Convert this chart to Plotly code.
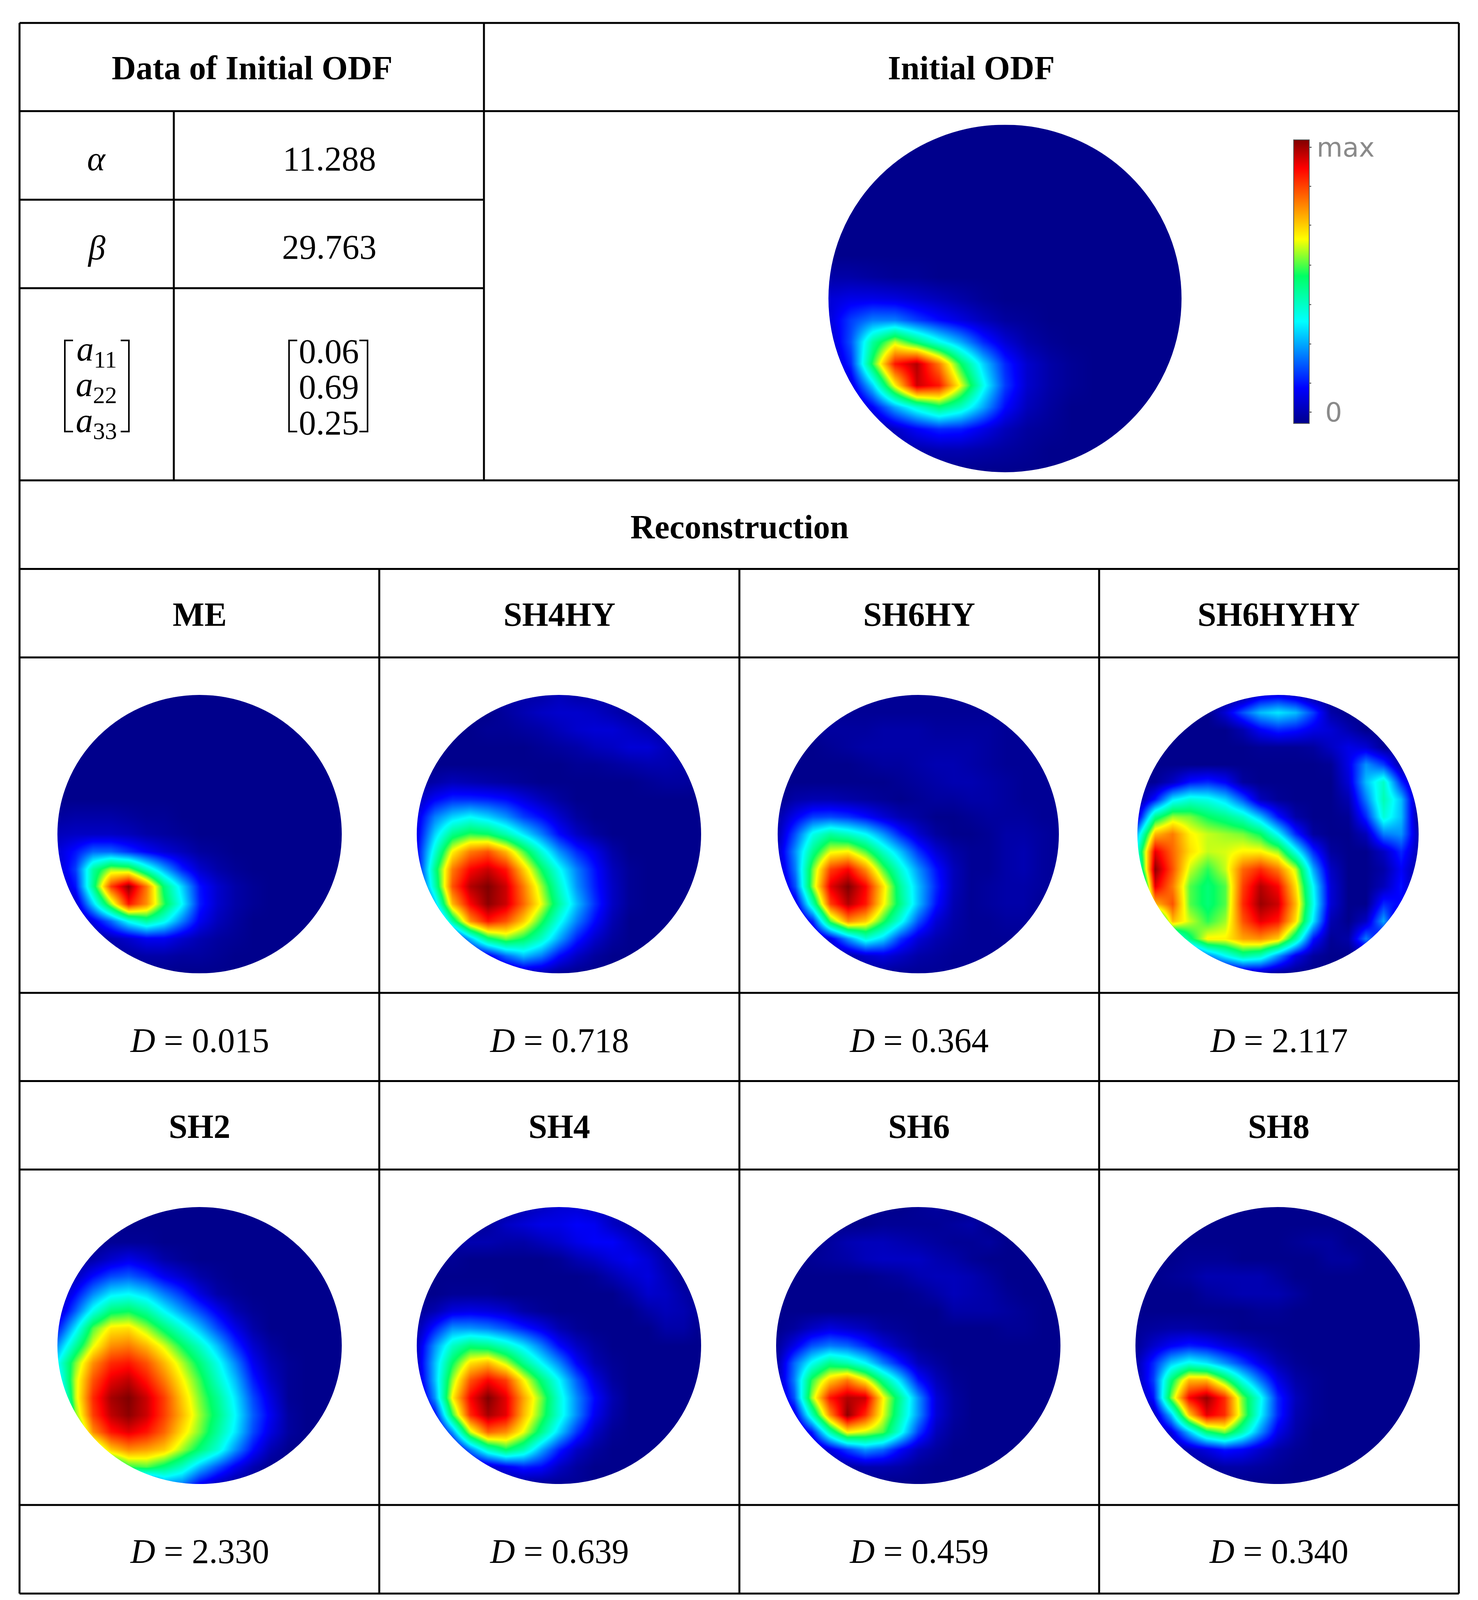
"""ODF table: initial distribution and its reconstructions, drawn as heatmaps on a table grid."""

import numpy as np
import plotly.graph_objects as go

# the page keeps an 8 px body margin; layout numbers below are in reference pixels (H tall),
# the figure itself is drawn shorter (FIG_H) so the whole table stays inside the photographed part
MARGIN = 8
W, H = 3784 - 2 * MARGIN, 4386 - 2 * MARGIN
FIG_H = 4110
SERIF = "Liberation Serif"
GRID = np.linspace(-1, 1, 17)

TOP_HEADERS = ["Data of Initial ODF", "Initial ODF"]
SECTION_TITLE = "Reconstruction"
ALPHA_VALUE = "11.288"
BETA_VALUE = "29.763"
A_LABELS = ["11", "22", "33"]
A_VALUES = ["0.06", "0.69", "0.25"]
NAMES_ROW1 = ["ME", "SH4HY", "SH6HY", "SH6HYHY"]
D_ROW1 = ["0.015", "0.718", "0.364", "2.117"]
NAMES_ROW2 = ["SH2", "SH4", "SH6", "SH8"]
D_ROW2 = ["2.330", "0.639", "0.459", "0.340"]
COLORBAR_TEXT = ["max", "\u00a00"]
COLORBAR_LABEL_AT = [97.4, 4]
COLORBAR_MARKS = [83.6, 69.9, 55.8, 41.9, 28, 14.2]

# values, 0 = navy, 100 = dark red, top row first
ODF_INITIAL = [
    [0, 0, 0, 0, 0, 0, 0, 0, 0, 0, 0, 0, 0, 0, 0, 0, 0],
    [0, 0, 0, 0, 0, 0, 0, 0, 0, 0, 0, 0, 0, 0, 0, 0, 0],
    [0, 0, 0, 0, 0, 0, 0, 0, 0, 0, 0, 0, 0, 0, 0, 0, 0],
    [0, 0, 0, 0, 0, 0, 0, 0, 0, 0, 0, 0, 0, 0, 0, 0, 0],
    [0, 0, 0, 0, 0, 0, 0, 0, 0, 0, 0, 0, 0, 0, 0, 0, 0],
    [0, 0, 0, 0, 0, 0, 0, 0, 0, 0, 0, 0, 0, 0, 0, 0, 0],
    [0, 0, 0, 0, 0, 0, 0, 0, 0, 0, 0, 0, 0, 0, 0, 0, 0],
    [3, 3, 2, 1, 1, 0, 0, 0, 0, 0, 0, 0, 0, 0, 0, 0, 0],
    [8, 10, 10, 9, 7, 5, 3, 1, 0, 0, 0, 0, 0, 0, 0, 0, 0],
    [8, 18, 24, 24, 18, 13, 9, 5, 2, 1, 0, 0, 0, 0, 0, 0, 0],
    [5, 20, 46, 62, 50, 38, 28, 16, 8, 3, 1, 0, 0, 0, 0, 0, 0],
    [2, 16, 54, 88, 96, 78, 52, 32, 16, 7, 3, 1, 0, 0, 0, 0, 0],
    [0, 8, 32, 66, 94, 88, 64, 38, 18, 7, 3, 1, 0, 0, 0, 0, 0],
    [0, 0, 12, 28, 40, 50, 42, 28, 13, 5, 2, 0, 0, 0, 0, 0, 0],
    [0, 0, 0, 6, 12, 16, 15, 10, 5, 2, 1, 0, 0, 0, 0, 0, 0],
    [0, 0, 0, 2, 3, 4, 4, 3, 2, 1, 0, 0, 0, 0, 0, 0, 0],
    [0, 0, 0, 0, 0, 0, 0, 0, 0, 0, 0, 0, 0, 0, 0, 0, 0],
]
ODF_ME = [
    [0, 0, 0, 0, 0, 0, 0, 0, 0, 0, 0, 0, 0, 0, 0, 0, 0],
    [0, 0, 0, 0, 0, 0, 0, 0, 0, 0, 0, 0, 0, 0, 0, 0, 0],
    [0, 0, 0, 0, 0, 0, 0, 0, 0, 0, 0, 0, 0, 0, 0, 0, 0],
    [0, 0, 0, 0, 0, 0, 0, 0, 0, 0, 0, 0, 0, 0, 0, 0, 0],
    [0, 0, 0, 0, 0, 0, 0, 0, 0, 0, 0, 0, 0, 0, 0, 0, 0],
    [0, 0, 0, 0, 0, 0, 0, 0, 0, 0, 0, 0, 0, 0, 0, 0, 0],
    [0, 0, 0, 0, 0, 0, 0, 0, 0, 0, 0, 0, 0, 0, 0, 0, 0],
    [2, 3, 3, 3, 2, 1, 1, 0, 0, 0, 0, 0, 0, 0, 0, 0, 0],
    [5, 6, 6, 6, 5, 3, 2, 1, 0, 0, 0, 0, 0, 0, 0, 0, 0],
    [8, 14, 22, 22, 17, 12, 8, 5, 2, 1, 0, 0, 0, 0, 0, 0, 0],
    [6, 18, 46, 60, 58, 42, 28, 15, 7, 3, 1, 0, 0, 0, 0, 0, 0],
    [3, 14, 48, 84, 99, 78, 50, 32, 14, 7, 3, 1, 0, 0, 0, 0, 0],
    [0, 6, 32, 60, 88, 76, 54, 36, 15, 7, 3, 1, 0, 0, 0, 0, 0],
    [0, 0, 10, 22, 37, 46, 38, 24, 11, 5, 2, 0, 0, 0, 0, 0, 0],
    [0, 0, 0, 4, 7, 11, 11, 7, 4, 2, 1, 0, 0, 0, 0, 0, 0],
    [0, 0, 0, 1, 2, 3, 3, 2, 2, 1, 0, 0, 0, 0, 0, 0, 0],
    [0, 0, 0, 0, 0, 0, 0, 0, 0, 0, 0, 0, 0, 0, 0, 0, 0],
]
ODF_SH4HY = [
    [3, 3, 3, 3, 3, 3, 3, 3, 5, 3, 3, 3, 3, 3, 3, 3, 3],
    [0, 0, 0, 0, 0, 2, 4, 6, 7, 7, 6, 4, 2, 0, 0, 0, 0],
    [0, 0, 0, 0, 1, 1, 2, 3, 5, 7, 8, 8, 6, 4, 2, 0, 0],
    [0, 0, 0, 0, 0, 0, 0, 1, 2, 3, 5, 6, 8, 8, 5, 3, 1],
    [0, 0, 0, 0, 0, 0, 0, 0, 0, 1, 1, 2, 3, 4, 4, 3, 1],
    [1, 3, 5, 4, 3, 2, 1, 0, 0, 0, 0, 0, 0, 1, 2, 2, 1],
    [5, 12, 16, 16, 15, 13, 9, 5, 2, 0, 0, 0, 0, 0, 0, 0, 0],
    [9, 24, 32, 36, 32, 26, 18, 13, 7, 2, 0, 0, 0, 0, 0, 0, 0],
    [10, 32, 48, 54, 52, 44, 34, 24, 13, 6, 2, 0, 0, 0, 0, 0, 0],
    [12, 40, 66, 78, 82, 72, 56, 40, 26, 16, 10, 3, 0, 0, 0, 0, 0],
    [10, 48, 78, 90, 94, 88, 70, 52, 37, 24, 14, 5, 1, 0, 0, 0, 0],
    [8, 44, 82, 96, 100, 94, 78, 60, 42, 26, 15, 6, 1, 0, 0, 0, 0],
    [0, 30, 72, 90, 99, 94, 80, 64, 46, 30, 17, 6, 1, 0, 0, 0, 0],
    [0, 8, 46, 76, 88, 82, 70, 54, 38, 24, 13, 4, 0, 0, 0, 0, 0],
    [0, 0, 6, 30, 50, 58, 52, 42, 28, 15, 7, 2, 0, 0, 0, 0, 0],
    [0, 0, 0, 3, 10, 22, 30, 24, 13, 6, 2, 0, 0, 0, 0, 0, 0],
    [0, 0, 0, 0, 0, 0, 4, 4, 1, 0, 0, 0, 0, 0, 0, 0, 0],
]
ODF_SH6HY = [
    [1, 1, 1, 1, 1, 1, 1, 1, 1, 1, 1, 1, 1, 1, 1, 1, 1],
    [1, 1, 1, 1, 1, 1, 1, 1, 1, 1, 1, 1, 1, 1, 1, 1, 1],
    [0, 0, 1, 2, 2, 2, 3, 3, 3, 2, 2, 2, 2, 1, 1, 1, 1],
    [0, 0, 0, 1, 2, 3, 3, 3, 3, 3, 3, 3, 2, 1, 1, 1, 1],
    [0, 0, 0, 0, 0, 1, 2, 2, 3, 4, 4, 3, 2, 1, 1, 1, 1],
    [0, 0, 0, 0, 0, 0, 0, 1, 2, 3, 4, 4, 3, 2, 1, 1, 1],
    [0, 3, 4, 4, 3, 2, 1, 0, 1, 2, 2, 3, 3, 2, 1, 1, 1],
    [3, 11, 18, 19, 17, 13, 8, 4, 2, 0, 0, 1, 2, 2, 2, 1, 1],
    [4, 20, 38, 46, 42, 36, 26, 15, 7, 2, 0, 0, 1, 3, 3, 2, 1],
    [6, 26, 48, 64, 66, 56, 42, 30, 17, 8, 3, 1, 1, 3, 4, 2, 1],
    [4, 24, 58, 84, 90, 76, 56, 40, 26, 14, 5, 1, 1, 3, 4, 2, 1],
    [0, 20, 60, 92, 100, 90, 68, 46, 30, 16, 5, 1, 2, 3, 3, 2, 1],
    [0, 8, 44, 84, 96, 88, 66, 48, 30, 14, 4, 1, 2, 3, 3, 1, 1],
    [0, 0, 16, 56, 76, 70, 54, 38, 20, 8, 3, 1, 1, 2, 2, 1, 0],
    [0, 0, 0, 10, 26, 40, 32, 17, 8, 4, 2, 1, 1, 1, 1, 0, 0],
    [0, 0, 0, 0, 3, 7, 9, 6, 3, 2, 1, 1, 1, 0, 0, 0, 0],
    [0, 0, 0, 0, 1, 1, 1, 1, 1, 1, 1, 1, 0, 0, 0, 0, 0],
]
ODF_SH6HYHY = [
    [0, 0, 0, 0, 0, 0, 0, 8, 10, 6, 0, 0, 0, 0, 0, 0, 0],
    [0, 0, 0, 0, 0, 8, 20, 30, 34, 30, 18, 3, 0, 0, 0, 0, 0],
    [0, 0, 0, 0, 0, 0, 4, 12, 16, 14, 10, 8, 4, 0, 0, 0, 0],
    [0, 0, 0, 0, 0, 0, 0, 1, 1, 1, 2, 6, 10, 8, 1, 0, 0],
    [0, 0, 0, 0, 0, 0, 0, 0, 0, 0, 0, 1, 10, 26, 18, 2, 0],
    [0, 1, 6, 14, 16, 12, 2, 0, 0, 0, 0, 0, 8, 30, 42, 16, 0],
    [0, 14, 34, 40, 38, 32, 20, 5, 1, 0, 0, 0, 4, 24, 44, 30, 0],
    [8, 48, 60, 58, 52, 48, 42, 30, 14, 3, 0, 0, 1, 16, 40, 30, 0],
    [30, 72, 78, 66, 62, 60, 58, 52, 36, 16, 2, 0, 0, 5, 24, 26, 4],
    [40, 92, 80, 68, 62, 63, 66, 66, 60, 38, 16, 2, 0, 0, 6, 16, 4],
    [32, 99, 82, 62, 54, 62, 80, 86, 78, 62, 28, 6, 0, 0, 3, 12, 2],
    [10, 92, 78, 56, 50, 56, 84, 96, 90, 68, 36, 8, 0, 0, 5, 14, 0],
    [20, 72, 82, 56, 50, 56, 86, 98, 94, 72, 38, 8, 0, 0, 16, 12, 0],
    [0, 30, 72, 62, 54, 60, 82, 92, 88, 68, 34, 4, 0, 6, 28, 0, 0],
    [0, 0, 30, 50, 66, 66, 74, 76, 70, 46, 14, 1, 3, 24, 8, 0, 0],
    [0, 0, 0, 6, 24, 36, 46, 42, 26, 10, 2, 0, 0, 0, 0, 0, 0],
    [0, 0, 0, 0, 0, 0, 3, 4, 1, 0, 0, 0, 0, 0, 0, 0, 0],
]
ODF_SH2 = [
    [0, 0, 0, 0, 0, 0, 0, 0, 0, 0, 0, 0, 0, 0, 0, 0, 0],
    [0, 0, 0, 0, 0, 0, 0, 0, 0, 0, 0, 0, 0, 0, 0, 0, 0],
    [0, 0, 0, 1, 1, 1, 0, 0, 0, 0, 0, 0, 0, 0, 0, 0, 0],
    [0, 1, 3, 7, 10, 7, 3, 1, 0, 0, 0, 0, 0, 0, 0, 0, 0],
    [1, 5, 13, 19, 21, 17, 11, 7, 3, 1, 0, 0, 0, 0, 0, 0, 0],
    [2, 13, 25, 34, 36, 32, 24, 17, 9, 3, 1, 0, 0, 0, 0, 0, 0],
    [5, 21, 38, 50, 52, 46, 36, 27, 19, 11, 4, 1, 0, 0, 0, 0, 0],
    [14, 34, 56, 67, 68, 60, 50, 40, 30, 19, 10, 3, 0, 0, 0, 0, 0],
    [26, 46, 64, 76, 78, 72, 63, 52, 42, 30, 17, 7, 2, 0, 0, 0, 0],
    [36, 58, 76, 86, 88, 82, 72, 61, 50, 38, 25, 11, 4, 1, 0, 0, 0],
    [30, 62, 82, 92, 95, 88, 78, 66, 55, 42, 30, 15, 6, 1, 0, 0, 0],
    [20, 62, 86, 97, 100, 94, 84, 70, 58, 47, 34, 19, 9, 1, 0, 0, 0],
    [0, 58, 84, 95, 99, 94, 84, 72, 60, 49, 36, 21, 11, 2, 0, 0, 0],
    [0, 46, 76, 88, 92, 88, 80, 68, 58, 46, 34, 19, 9, 2, 0, 0, 0],
    [0, 0, 52, 70, 76, 74, 70, 60, 50, 40, 26, 13, 4, 0, 0, 0, 0],
    [0, 0, 0, 42, 54, 56, 50, 42, 30, 20, 11, 4, 0, 0, 0, 0, 0],
    [0, 0, 0, 0, 0, 10, 26, 24, 12, 5, 1, 0, 0, 0, 0, 0, 0],
]
ODF_SH4 = [
    [0, 0, 0, 0, 0, 1, 4, 6, 8, 8, 6, 4, 2, 0, 0, 0, 0],
    [0, 0, 0, 0, 2, 6, 8, 10, 10, 12, 11, 6, 3, 0, 0, 0, 0],
    [0, 0, 2, 4, 4, 3, 3, 5, 7, 10, 12, 12, 8, 4, 1, 0, 0],
    [0, 0, 1, 0, 0, 0, 0, 0, 1, 4, 6, 9, 11, 8, 3, 1, 0],
    [0, 0, 0, 0, 0, 0, 0, 0, 0, 0, 1, 4, 7, 9, 5, 1, 0],
    [0, 0, 1, 1, 1, 0, 0, 0, 0, 0, 0, 0, 3, 7, 6, 3, 0],
    [1, 4, 9, 10, 9, 7, 3, 1, 0, 0, 0, 0, 0, 3, 5, 4, 1],
    [3, 15, 26, 26, 24, 20, 15, 10, 4, 1, 0, 0, 0, 0, 3, 3, 0],
    [6, 26, 42, 50, 48, 42, 34, 24, 13, 6, 2, 0, 0, 0, 0, 0, 0],
    [6, 30, 52, 68, 72, 62, 48, 36, 25, 12, 4, 1, 0, 0, 0, 0, 0],
    [4, 30, 60, 82, 90, 84, 66, 50, 36, 21, 9, 2, 0, 0, 0, 0, 0],
    [0, 26, 66, 90, 100, 92, 74, 58, 40, 25, 13, 4, 0, 0, 0, 0, 0],
    [0, 12, 54, 86, 97, 92, 72, 56, 40, 25, 11, 3, 0, 0, 0, 0, 0],
    [0, 0, 26, 62, 80, 76, 64, 48, 32, 17, 6, 1, 0, 0, 0, 0, 0],
    [0, 0, 2, 24, 42, 52, 44, 28, 15, 6, 2, 0, 0, 0, 0, 0, 0],
    [0, 0, 0, 2, 6, 11, 15, 13, 6, 2, 0, 0, 0, 0, 0, 0, 0],
    [0, 0, 0, 0, 1, 1, 1, 1, 1, 1, 0, 0, 0, 0, 0, 0, 0],
]
ODF_SH6 = [
    [0, 0, 0, 0, 0, 0, 0, 0, 1, 2, 0, 0, 0, 0, 0, 0, 0],
    [0, 0, 0, 0, 0, 0, 1, 1, 1, 1, 2, 3, 0, 0, 0, 0, 0],
    [0, 0, 0, 2, 4, 5, 5, 4, 3, 2, 1, 1, 2, 0, 0, 0, 0],
    [0, 0, 1, 2, 3, 5, 6, 6, 6, 4, 3, 1, 0, 0, 0, 0, 0],
    [0, 0, 0, 0, 0, 0, 1, 2, 4, 5, 5, 4, 2, 0, 0, 0, 0],
    [0, 0, 0, 0, 0, 0, 0, 0, 1, 3, 5, 4, 3, 1, 0, 0, 0],
    [0, 0, 0, 0, 0, 0, 0, 0, 0, 0, 3, 3, 3, 2, 1, 0, 0],
    [0, 2, 6, 9, 7, 5, 2, 1, 0, 0, 0, 0, 0, 1, 1, 0, 0],
    [1, 10, 20, 24, 22, 16, 9, 4, 1, 0, 0, 0, 0, 0, 0, 0, 0],
    [2, 22, 37, 48, 44, 36, 24, 14, 5, 2, 0, 0, 0, 0, 0, 0, 0],
    [2, 24, 54, 70, 78, 66, 48, 32, 14, 5, 1, 0, 0, 0, 0, 0, 0],
    [0, 20, 60, 88, 96, 94, 66, 46, 26, 8, 2, 0, 0, 0, 0, 0, 0],
    [0, 8, 42, 76, 99, 86, 64, 44, 26, 8, 2, 0, 0, 0, 0, 0, 0],
    [0, 0, 14, 44, 66, 62, 56, 38, 18, 5, 1, 0, 0, 0, 0, 0, 0],
    [0, 0, 0, 9, 18, 26, 22, 12, 5, 2, 0, 0, 0, 0, 0, 0, 0],
    [0, 0, 0, 0, 2, 4, 4, 3, 1, 0, 0, 0, 0, 0, 0, 0, 0],
    [0, 0, 0, 0, 0, 0, 0, 0, 0, 0, 0, 0, 0, 0, 0, 0, 0],
]
ODF_SH8 = [
    [0, 0, 0, 0, 0, 0, 0, 0, 0, 0, 0, 0, 0, 0, 0, 0, 0],
    [0, 0, 0, 0, 0, 0, 0, 0, 0, 0, 0, 0, 0, 0, 0, 0, 0],
    [0, 0, 0, 0, 0, 0, 0, 0, 0, 1, 2, 2, 0, 0, 0, 0, 0],
    [0, 0, 0, 1, 1, 1, 0, 0, 0, 0, 0, 2, 2, 0, 0, 0, 0],
    [0, 0, 1, 2, 4, 4, 4, 4, 2, 0, 0, 0, 0, 0, 0, 0, 0],
    [0, 0, 0, 0, 2, 3, 4, 4, 4, 2, 0, 0, 0, 0, 0, 0, 0],
    [0, 0, 0, 0, 0, 0, 0, 1, 1, 0, 0, 0, 0, 0, 0, 0, 0],
    [1, 2, 3, 3, 2, 1, 0, 0, 0, 0, 0, 0, 0, 0, 0, 0, 0],
    [1, 7, 12, 15, 13, 9, 6, 3, 1, 0, 0, 0, 0, 0, 0, 0, 0],
    [3, 16, 31, 38, 34, 26, 18, 10, 4, 1, 0, 0, 0, 0, 0, 0, 0],
    [2, 18, 50, 72, 72, 56, 38, 23, 10, 3, 1, 0, 0, 0, 0, 0, 0],
    [0, 14, 58, 90, 98, 86, 58, 38, 16, 5, 1, 0, 0, 0, 0, 0, 0],
    [0, 4, 30, 70, 92, 86, 60, 36, 16, 4, 1, 0, 0, 0, 0, 0, 0],
    [0, 0, 9, 30, 50, 58, 44, 26, 10, 3, 0, 0, 0, 0, 0, 0, 0],
    [0, 0, 0, 5, 9, 14, 12, 7, 3, 1, 0, 0, 0, 0, 0, 0, 0],
    [0, 0, 0, 0, 1, 3, 3, 2, 1, 0, 0, 0, 0, 0, 0, 0, 0],
    [0, 0, 0, 0, 0, 0, 0, 0, 0, 0, 0, 0, 0, 0, 0, 0, 0],
]

JET = [
    [0.0, "rgb(0,0,140)"],
    [0.125, "rgb(0,0,255)"],
    [0.36, "rgb(0,255,255)"],
    [0.52, "rgb(0,255,100)"],
    [0.65, "rgb(255,255,0)"],
    [0.9, "rgb(255,0,0)"],
    [1.0, "rgb(128,0,0)"],
]

# centre x, centre y, radius x, radius y of each disc, in reference pixels
DISCS = [
    (ODF_INITIAL, 2573, 812, 452, 473),
    (ODF_ME, 511, 2270, 364, 379),
    (ODF_SH4HY, 1431, 2270, 364, 379),
    (ODF_SH6HY, 2351, 2270, 360, 379),
    (ODF_SH6HYHY, 3272, 2270, 360, 379),
    (ODF_SH2, 511, 3662, 364, 377),
    (ODF_SH4, 1431, 3662, 364, 377),
    (ODF_SH6, 2351, 3662, 364, 377),
    (ODF_SH8, 3271, 3662, 364, 377),
]

COL_CENTRES = [511, 1432, 2353, 3274]
LINE_W = 5
BAR_TOP, BAR_BOTTOM = 380, 1152
BAR_LEFT, BAR_RIGHT = 3312, 3352


def px(x):
    return (x - MARGIN) / W


def py(y):
    return 1 - (y - MARGIN) / H


def label(text, x, y, size=86):
    return dict(
        text=text, x=px(x), y=py(y), xref="paper", yref="paper", showarrow=False,
        xanchor="center", yanchor="middle",
        font=dict(family=SERIF, size=size, color="black"),
    )


def hline(y, x0=50, x1=3735):
    return dict(type="line", xref="paper", yref="paper", x0=px(x0), x1=px(x1), y0=py(y), y1=py(y),
                line=dict(color="black", width=LINE_W))


def vline(x, y0, y1):
    return dict(type="line", xref="paper", yref="paper", x0=px(x), x1=px(x), y0=py(y0), y1=py(y1),
                line=dict(color="black", width=LINE_W))


def bracket(x_out, x_in, y0=926, y1=1174):
    path = (f"M {px(x_in)} {py(y0)} L {px(x_out)} {py(y0)} "
            f"L {px(x_out)} {py(y1)} L {px(x_in)} {py(y1)}")
    return dict(type="path", xref="paper", yref="paper", path=path, line=dict(color="black", width=4))


fig = go.Figure()
layout_axes = {}
shapes = []

for n, (values, cx, cy, rx, ry) in enumerate(DISCS, start=1):
    suffix = "" if n == 1 else str(n)
    fig.add_trace(go.Heatmap(
        z=values, x=GRID, y=GRID, coloraxis="coloraxis", zsmooth="best",
        hoverinfo="skip", xaxis=f"x{suffix}", yaxis=f"y{suffix}",
    ))
    layout_axes[f"xaxis{suffix}"] = dict(
        domain=[px(cx - rx), px(cx + rx)], range=[-1, 1], visible=False,
        anchor=f"y{suffix}", fixedrange=True,
    )
    layout_axes[f"yaxis{suffix}"] = dict(
        domain=[py(cy + ry), py(cy - ry)], range=[1, -1], visible=False,
        anchor=f"x{suffix}", fixedrange=True,
    )
    # thick white ring hides the square corners of the heatmap, leaving a disc
    ring = 0.45 * rx
    half_x = (rx + ring / 2) / W
    half_y = (ry * FIG_H / H + ring / 2) / FIG_H
    shapes.append(dict(
        type="circle", xref="paper", yref="paper",
        x0=px(cx) - half_x, x1=px(cx) + half_x, y0=py(cy) - half_y, y1=py(cy) + half_y,
        line=dict(color="white", width=ring),
    ))

# table rules
for y in [62, 302, 1307, 1548, 1789, 2702, 2942, 3183, 4096, 4337]:
    shapes.append(hline(y))
for y in [543, 784]:
    shapes.append(hline(y, 50, 1239))
shapes.append(vline(50, 62, 4337))
shapes.append(vline(3735, 62, 4337))
shapes.append(vline(1239, 62, 1307))
shapes.append(vline(445, 302, 1307))
for x in [971, 1893, 2814]:
    shapes.append(vline(x, 1548, 4337))

# matrix brackets
shapes += [bracket(166, 187), bracket(330, 309), bracket(740, 761), bracket(941, 920)]

# small marks on the colour bar that carry no label
for mark in COLORBAR_MARKS:
    mark_y = BAR_BOTTOM - (BAR_BOTTOM - BAR_TOP) * mark / 100
    shapes.append(dict(
        type="line", xref="paper", yref="paper",
        x0=px(BAR_RIGHT), x1=px(BAR_RIGHT + 5), y0=py(mark_y), y1=py(mark_y),
        line=dict(color="#333333", width=2),
    ))

annotations = [
    label(f"<b>{TOP_HEADERS[0]}</b>", 645, 185),
    label(f"<b>{TOP_HEADERS[1]}</b>", 2487, 185),
    label(f"<b>{SECTION_TITLE}</b>", 1893, 1434),
    label("<i>α</i>", 247, 432, 88),
    label(ALPHA_VALUE, 843, 432, 88),
    label("<i>β</i>", 247, 674, 88),
    label(BETA_VALUE, 843, 672, 88),
]
for sub, val, y in zip(A_LABELS, A_VALUES, [956, 1053, 1151]):
    annotations.append(label(f"<i>a</i><sub>{sub}</sub>", 247, y, 88))
    annotations.append(label(val, 842, y, 88))
for col, name, d in zip(COL_CENTRES, NAMES_ROW1, D_ROW1):
    annotations.append(label(f"<b>{name}</b>", col, 1672))
    annotations.append(label(f"<i>D</i> = {d}", col, 2831, 88))
for col, name, d in zip(COL_CENTRES, NAMES_ROW2, D_ROW2):
    annotations.append(label(f"<b>{name}</b>", col, 3066))
    annotations.append(label(f"<i>D</i> = {d}", col, 4222, 88))

fig.update_layout(
    width=W, height=FIG_H, margin=dict(l=0, r=0, t=0, b=0, autoexpand=False),
    paper_bgcolor="white", plot_bgcolor="white", showlegend=False,
    shapes=shapes, annotations=annotations,
    coloraxis=dict(
        colorscale=JET, cmin=0, cmax=100,
        colorbar=dict(
            x=px(BAR_LEFT), xanchor="left", xref="paper", xpad=0,
            y=py((BAR_TOP + BAR_BOTTOM) / 2), yanchor="middle", yref="paper", ypad=0,
            len=(BAR_BOTTOM - BAR_TOP) / H, lenmode="fraction",
            thickness=BAR_RIGHT - BAR_LEFT, thicknessmode="pixels",
            outlinecolor="#555555", outlinewidth=2, borderwidth=0,
            tickmode="array", tickvals=COLORBAR_LABEL_AT, ticktext=COLORBAR_TEXT,
            ticks="outside", ticklen=5, tickwidth=2, tickcolor="#333333",
            tickfont=dict(family="DejaVu Sans", size=68, color="#8a8a8a"),
        ),
    ),
    **layout_axes,
)

fig.write_html("out.html")
